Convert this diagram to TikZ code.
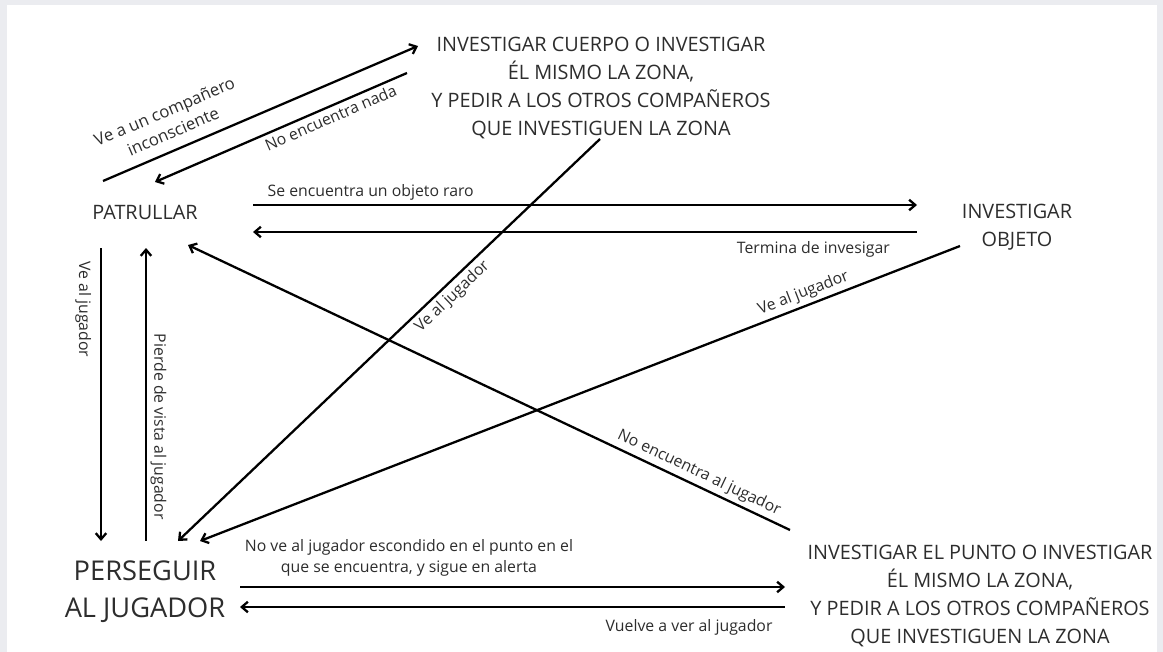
\documentclass[tikz,border=0pt]{standalone}
\usepackage{fontspec}
\setmainfont{Open Sans}
\usetikzlibrary{arrows.meta}
\definecolor{fondo}{RGB}{235,236,240}
\definecolor{texto}{RGB}{45,45,45}

\begin{document}
\begin{tikzpicture}[x=0.02cm,y=-0.02cm,>={Straight Barb[length=3.5pt,width=6pt]},
        line width=1.3pt,
        estado/.style={align=center,text=texto,font=\fontsize{11.3}{15.9}\selectfont},
        grande/.style={align=center,text=texto,font=\fontsize{15.5}{21}\selectfont},
        etiq/.style={text=texto,font=\fontsize{9}{12}\selectfont,inner sep=2pt}]
        \useasboundingbox (0,0) rectangle (1163,652);
        \fill[fondo] (0,0) rectangle (1163,652);
        \fill[white] (7,5) rectangle (1157,652);

        \node[estado]   at (145,212)    (patrullar)     {PATRULLAR};
        \node[estado]   at (601,88)     (cuerpo)        {INVESTIGAR CUERPO O INVESTIGAR\\ÉL MISMO LA ZONA,\\Y PEDIR A LOS OTROS COMPAÑEROS\\QUE INVESTIGUEN LA ZONA};
        \node[estado]   at (1017,227)   (objeto)        {INVESTIGAR\\OBJETO};
        \node[grande]   at (145,592)    (perseguir)     {PERSEGUIR\\AL JUGADOR};
        \node[estado]   at (980,596)    (punto)         {INVESTIGAR EL PUNTO O INVESTIGAR\\ÉL MISMO LA ZONA,\\Y PEDIR A LOS OTROS COMPAÑEROS\\QUE INVESTIGUEN LA ZONA};

        \path [every node/.style=etiq]
        ([shift={(-42,-31)}]patrullar.center)   edge[->]        node[pos=.245,above=4pt,sloped,align=center,font=\fontsize{9.5}{12.5}\selectfont] {Ve a un compañero\\inconsciente} ([shift={(-183,-42)}]cuerpo.center)
        ([shift={(10,-30)}]patrullar.center)    edge[<-]        node[pos=.68,below,sloped] {No encuentra nada} ([shift={(-194,-15)}]cuerpo.center)
        ([shift={(108,-7)}]patrullar.center)    edge[->]        node[pos=.015,anchor=south west] {Se encuentra un objeto raro} ([shift={(-100,-22)}]objeto.center)
        ([shift={(108,20)}]patrullar.center)    edge[<-]        node[pos=.966,anchor=north east,yshift=-3pt] {Termina de invesigar} ([shift={(-100,5)}]objeto.center)
        ([shift={(-44,36)}]patrullar.center)    edge[->]        node[pos=.21,rotate=-90,anchor=north,inner sep=5pt] {Ve al jugador} ([shift={(-44,-51)}]perseguir.center)
        ([shift={(1,36)}]patrullar.center)      edge[<-]        node[pos=.61,rotate=-90,anchor=south] {Pierde de vista al jugador} ([shift={(1,-51)}]perseguir.center)
        ([shift={(33,-51)}]perseguir.center)    edge[<-]        node[pos=.63,below,sloped] {Ve al jugador} ([shift={(-1,51)}]cuerpo.center)
        ([shift={(55,-51)}]perseguir.center)    edge[<-]        node[pos=.8,above,sloped] {Ve al jugador} ([shift={(-57,19)}]objeto.center)
        ([shift={(43,33)}]patrullar.center)     edge[<-]        node[pos=.84,above,sloped] {No encuentra al jugador} ([shift={(-190,-66)}]punto.center)
        ([shift={(95,-5)}]perseguir.center)     edge[->]        node[pos=.31,above,align=center,yshift=3.5pt] {No ve al jugador escondido en el punto en el\\que se encuentra, y sigue en alerta} ([shift={(-195,-9)}]punto.center)
        ([shift={(95,15)}]perseguir.center)     edge[<-]        node[pos=.824,below,yshift=-4.5pt] {Vuelve a ver al jugador} ([shift={(-195,11)}]punto.center);
\end{tikzpicture}
\end{document}
